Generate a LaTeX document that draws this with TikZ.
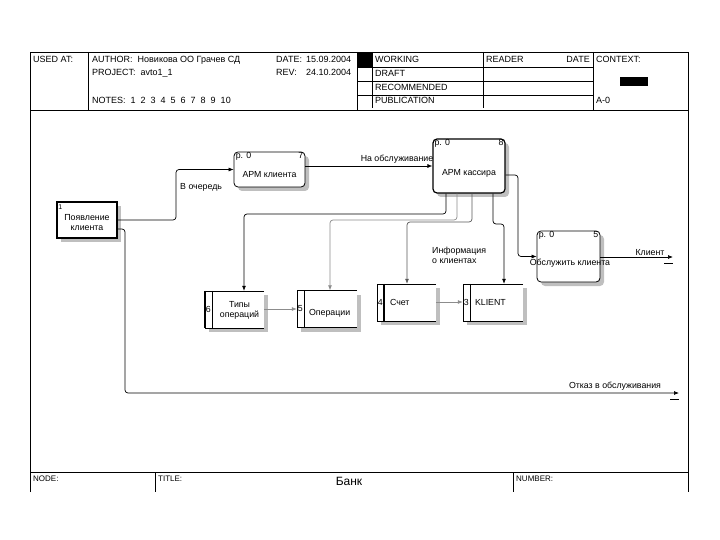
\documentclass[tikz,border=0pt]{standalone}
\usepackage{fontspec}
\setmainfont{Liberation Sans}
\usetikzlibrary{arrows.meta,shadows}
\begin{document}
\begin{tikzpicture}[x=1pt,y=-1pt,
  hdr/.style={font=\fontsize{9}{10}\selectfont, anchor=base west, inner sep=0pt},
  lbl/.style={font=\fontsize{8.8}{10}\selectfont, inner sep=1pt, align=center},
  shd/.style={drop shadow={shadow xshift=4pt, shadow yshift=-4pt, fill=gray!50, opacity=1}},
  act/.style={draw, rounded corners=4pt, fill=white, line width=0.8pt, shd, inner sep=0pt},
  store/.style={fill=white, minimum height=37pt, inner sep=0pt, shd},
  conn/.style={line width=0.7pt, rounded corners=3pt, -{Latex[length=5pt,width=4pt]}},
  frame/.style={line width=0.6pt},
]
\useasboundingbox (0,0) rectangle (720,540);
% ---------- frame & header ----------
\draw[frame] (30,492) -- (30,52) -- (688,52) -- (688,492);
\draw[frame] (30,110) -- (688,110);
\draw[frame] (88,52) -- (88,110);
\draw[frame] (357,52) -- (357,110);
\draw[frame] (372,52) -- (372,108);
\draw[frame] (483,52) -- (483,108);
\draw[frame] (593,52) -- (593,110);
\foreach \yy in {67,81,95} \draw[frame] (357,\yy) -- (593,\yy);
\fill (357,52) rectangle (372,67);
\fill (620,77) rectangle (648,86);
\node[hdr] at (33,63) {USED AT:};
\node[hdr] at (92,63) {AUTHOR:\ \ Новикова ОО Грачев СД};
\node[hdr] at (276,63) {DATE:};
\node[hdr] at (306,63) {15.09.2004};
\node[hdr] at (92,76) {PROJECT:\ \ avto1\_1};
\node[hdr] at (276,76) {REV:};
\node[hdr] at (306,76) {24.10.2004};
\node[hdr] at (92,104) {NOTES:\ \ 1\ \ 2\ \ 3\ \ 4\ \ 5\ \ 6\ \ 7\ \ 8\ \ 9\ \ 10};
\node[hdr] at (375,63) {WORKING};
\node[hdr] at (375,77) {DRAFT};
\node[hdr] at (375,91) {RECOMMENDED};
\node[hdr] at (375,104) {PUBLICATION};
\node[hdr] at (486,63) {READER};
\node[hdr, anchor=base east] at (590,63) {DATE};
\node[hdr] at (596,63) {CONTEXT:};
\node[hdr] at (596,104) {A-0};
% ---------- footer ----------
\draw[frame] (30,472) -- (688,472);
\draw[frame] (155,472) -- (155,492);
\draw[frame] (513,472) -- (513,492);
\node[hdr, font=\fontsize{8}{9}\selectfont] at (33,481) {NODE:};
\node[hdr, font=\fontsize{8}{9}\selectfont] at (158,481) {TITLE:};
\node[hdr, font=\fontsize{8}{9}\selectfont] at (516,481) {NUMBER:};
\node[font=\fontsize{12}{14}\selectfont, inner sep=0pt] (title) at (349,481) {Банк};
% ---------- activities ----------
\node[act, line width=1.8pt, rounded corners=0pt, minimum width=60pt, minimum height=36pt] (n1) at (87,220) {};
\node[lbl] at ([yshift=-2.5pt]n1.center) {Появление\\клиента};
\node[lbl, anchor=north west, font=\fontsize{7}{8}\selectfont, inner sep=0pt] at ([xshift=2pt,yshift=-3pt]n1.north west) {1};

\node[act, minimum width=71pt, minimum height=35pt] (n7) at (269.5,169.5) {};
\node[lbl] at ([yshift=-5pt]n7.center) {АРМ клиента};
\node[lbl, anchor=north west] at ([xshift=1pt]n7.north west) {р. 0};
\node[lbl, anchor=north east] at ([xshift=-1pt]n7.north east) {7};

\node[act, line width=1.2pt, minimum width=72pt, minimum height=54pt] (n8) at (469,166) {};
\node[lbl] at ([yshift=-7pt]n8.center) {АРМ кассира};
\node[lbl, anchor=north west] at ([xshift=1pt]n8.north west) {р. 0};
\node[lbl, anchor=north east] at ([xshift=-1pt]n8.north east) {8};

\node[act, minimum width=63pt, minimum height=51pt] (n5) at (568.5,256.5) {};
\node[lbl] at ([xshift=1.5pt,yshift=-6.5pt]n5.center) {Обслужить клиента};
\node[lbl, anchor=north west] at ([xshift=1pt]n5.north west) {р. 0};
\node[lbl, anchor=north east] at ([xshift=-1pt]n5.north east) {5};
% ---------- data stores ----------
\node[store, minimum width=59pt] (s6) at (234.5,309.5) {};
\draw[line width=0.6pt] (s6.north east) -- (s6.north west) -- (s6.south west) -- (s6.south east);
\draw[line width=1.4pt] (s6.north west) -- (s6.south west);
\draw[line width=0.6pt] ([xshift=7pt]s6.north west) -- ([xshift=7pt]s6.south west);
\node[lbl] at ([xshift=3.5pt]s6.west) {6};
\node[lbl] at ([xshift=5pt,yshift=-1pt]s6.center) {Типы\\операций};

\node[store, minimum width=60pt] (s5) at (327,309) {};
\draw[line width=0.6pt] (s5.north east) -- (s5.north west) -- (s5.south west) -- (s5.south east);
\draw[line width=1.4pt] ([xshift=7.5pt]s5.north west) -- ([xshift=7.5pt]s5.south west);
\node[lbl] at ([xshift=3.5pt]s5.west) {5};
\node[lbl, anchor=west] at ([xshift=11pt,yshift=-4pt]s5.west) {Операции};

\node[store, minimum width=59pt] (s4) at (406.5,302.5) {};
\draw[line width=0.6pt] (s4.north east) -- (s4.north west) -- (s4.south west) -- (s4.south east);
\draw[line width=1.4pt] ([xshift=7pt]s4.north west) -- ([xshift=7pt]s4.south west);
\node[lbl] at ([xshift=3.5pt]s4.west) {4};
\node[lbl, anchor=west] at ([xshift=12pt]s4.west) {Счет};

\node[store, minimum width=60pt] (s3) at (493,302.5) {};
\draw[line width=0.6pt] (s3.north east) -- (s3.north west) -- (s3.south west) -- (s3.south east);
\draw[line width=1.4pt] ([xshift=7.5pt]s3.north west) -- ([xshift=7.5pt]s3.south west);
\node[lbl] at ([xshift=3.5pt]s3.west) {3};
\node[lbl, anchor=west] at ([xshift=11pt]s3.west) {KLIENT};
% ---------- connectors ----------
\draw[conn] (n1.east) -- (176,220) -- (176,169.5) -- (n7.west);
\node[lbl, anchor=west] at (179,187) {В очередь};

\draw[conn] (n7.east |- n8.west) -- (n8.west);
\node[lbl, anchor=south] at (397,165) {На обслуживание};

\draw[conn] (n8.east |- 0,175) -- (518,175) -- (518,256.5) -- (n5.west);

\coordinate (cl) at (673,257);
\draw[conn] (n5.east |- cl) -- (cl);
\node[lbl, anchor=south] at (650,257) {Клиент};
\draw[line width=0.9pt] (664,263.5) -- (673,263.5);

\coordinate (ot) at (679,393);
\draw[conn] (n1.east |- 0,229) -- (125,229) -- (125,393) -- (ot);
\node[lbl, anchor=south] at (615,392) {Отказ в обслуживания};
\draw[line width=0.9pt] (670,399.5) -- (679,399.5);

\draw[conn] (n8.south -| 446,0) -- (446,214) -- (244,214) -- (244,0 |- s6.north);
\draw[conn, black!45] (n8.south -| 457,0) -- (457,220) -- (330,220) -- (330,0 |- s5.north);
\draw[conn, black!65] (n8.south -| 472,0) -- (472,222) -- (407,222) -- (407,0 |- s4.north);
\draw[conn] (n8.south -| 493,0) -- (493,224) -- (504,224) -- (504,0 |- s3.north);
\node[lbl, align=left, anchor=north west] at (431,246) {Информация\\о клиентах};

\draw[conn, black!45] (s6.east |- 0,309) -- (s5.west |- 0,309);
\draw[conn, black!45] (s4.east |- 0,302) -- (s3.west |- 0,302);
\end{tikzpicture}
\end{document}
